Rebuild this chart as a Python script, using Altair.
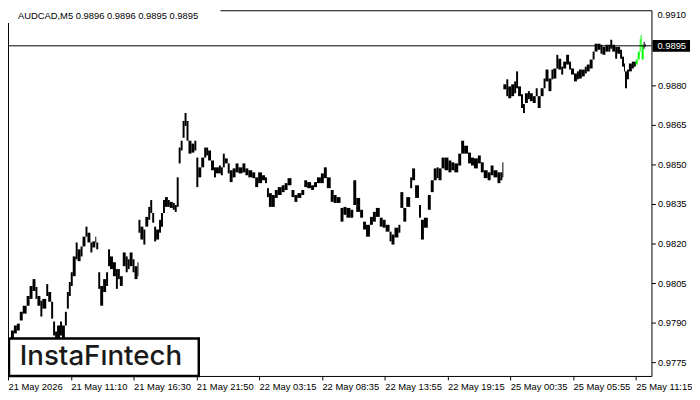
import altair as alt
import pandas as pd

# ---- data (5-minute bars, index 0 = first axis label) ----
bars = [3, 6, 9, 12, 15, 19, 22, 25, 28, 30, 33, 35, 39, 41, 44, 46, 48, 50, 53, 55,
        58, 60, 62, 64, 66, 69, 71, 74, 76, 79, 81, 84, 86, 89, 90, 92, 94, 97, 100, 102,
        104, 107, 110, 112, 114, 117, 120, 122, 124, 127, 129, 132, 133, 135, 138, 140, 143, 145, 147, 149,
        151, 154, 156, 158, 160, 163, 165, 168, 170, 172, 174, 176, 178, 180, 182, 184, 187, 190, 192, 194,
        197, 200, 202, 204, 207, 210, 212, 215, 217, 219, 221, 224, 226, 229, 232, 235, 239, 242, 245, 249,
        252, 255, 259, 262, 264, 266, 269, 272, 275, 279, 282, 285, 289, 292, 295, 299, 302, 305, 309, 312,
        315, 319, 322, 325, 329, 332, 335, 339, 342, 345, 349, 352, 355, 359, 362, 365, 369, 372, 375, 379,
        382, 385, 389, 391, 394, 398, 400, 403, 406, 410, 412, 415, 419, 421, 424, 428, 431, 434, 437, 439,
        442, 445, 449, 452, 455, 459, 462, 465, 469, 472, 475, 479, 482, 485, 489, 492, 495, 499, 502, 504,
        505, 508, 510, 513, 516, 518, 520, 523, 525, 527, 530, 532, 535, 538, 540, 543, 546, 548, 551, 554,
        556, 559, 561, 564, 566, 569, 572, 574, 577, 580, 582, 585, 588, 590, 593, 596, 598, 601, 604, 606,
        609, 612, 614, 616, 619, 621, 624, 626, 628, 629, 631, 633, 636, 638, 648, 649]
highs = [0.97870, 0.97889, 0.97896, 0.97941, 0.97964, 0.98001, 0.98039, 0.98065, 0.98035, 0.98001,
         0.97983, 0.97990, 0.98046, 0.98016, 0.97979, 0.97904, 0.97866, 0.97889, 0.97904, 0.97889,
         0.97941, 0.98016, 0.98054, 0.98091, 0.98151, 0.98204, 0.98178, 0.98189, 0.98226, 0.98264,
         0.98241, 0.98204, 0.98208, 0.98226, 0.98204, 0.98091, 0.98039, 0.98065, 0.98091, 0.98178,
         0.98151, 0.98129, 0.98103, 0.98103, 0.98076, 0.98166, 0.98151, 0.98140, 0.98166, 0.98140,
         0.98114, 0.98129, 0.98290, 0.98264, 0.98253, 0.98301, 0.98339, 0.98365, 0.98316, 0.98264,
         0.98253, 0.98290, 0.98316, 0.98365, 0.98376, 0.98365, 0.98358, 0.98354, 0.98346, 0.98451,
         0.98564, 0.98590, 0.98665, 0.98695, 0.98665, 0.98590, 0.98579, 0.98590, 0.98526, 0.98489,
         0.98526, 0.98564, 0.98564, 0.98553, 0.98515, 0.98489, 0.98489, 0.98496, 0.98489, 0.98541,
         0.98523, 0.98504, 0.98478, 0.98485, 0.98504, 0.98489, 0.98504, 0.98485, 0.98478, 0.98470,
         0.98451, 0.98470, 0.98459, 0.98451, 0.98410, 0.98391, 0.98384, 0.98403, 0.98414, 0.98421,
         0.98429, 0.98448, 0.98403, 0.98384, 0.98391, 0.98403, 0.98440, 0.98433, 0.98421, 0.98433,
         0.98451, 0.98466, 0.98489, 0.98451, 0.98403, 0.98384, 0.98376, 0.98335, 0.98339, 0.98335,
         0.98328, 0.98440, 0.98373, 0.98328, 0.98283, 0.98271, 0.98301, 0.98320, 0.98335, 0.98298,
         0.98290, 0.98271, 0.98245, 0.98234, 0.98260, 0.98271, 0.98395, 0.98335, 0.98376, 0.98451,
         0.98485, 0.98421, 0.98346, 0.98290, 0.98298, 0.98384, 0.98440, 0.98485, 0.98489, 0.98485,
         0.98526, 0.98526, 0.98515, 0.98508, 0.98504, 0.98541, 0.98590, 0.98571, 0.98545, 0.98526,
         0.98523, 0.98534, 0.98508, 0.98478, 0.98470, 0.98496, 0.98478, 0.98470, 0.98470, 0.98508,
         0.98804, 0.98823, 0.98796, 0.98804, 0.98815, 0.98853, 0.98796, 0.98766, 0.98729, 0.98770,
         0.98778, 0.98770, 0.98759, 0.98789, 0.98759, 0.98789, 0.98826, 0.98860, 0.98826, 0.98860,
         0.98864, 0.98916, 0.98901, 0.98871, 0.98890, 0.98916, 0.98890, 0.98864, 0.98845, 0.98853,
         0.98860, 0.98860, 0.98871, 0.98879, 0.98898, 0.98928, 0.98958, 0.98958, 0.98954, 0.98946,
         0.98954, 0.98954, 0.98973, 0.98954, 0.98946, 0.98946, 0.98935, 0.98909, 0.98883, 0.98853,
         0.98860, 0.98883, 0.98890, 0.98890, 0.98965, 0.98958]
lows = [0.97840, 0.97859, 0.97870, 0.97908, 0.97934, 0.97964, 0.97990, 0.98020, 0.97990, 0.97964,
        0.97923, 0.97953, 0.98001, 0.97979, 0.97915, 0.97851, 0.97833, 0.97833, 0.97851, 0.97833,
        0.97889, 0.97953, 0.98001, 0.98039, 0.98076, 0.98140, 0.98133, 0.98151, 0.98189, 0.98226,
        0.98204, 0.98166, 0.98185, 0.98204, 0.98178, 0.98028, 0.97964, 0.98016, 0.98039, 0.98114,
        0.98103, 0.98076, 0.98028, 0.98065, 0.98039, 0.98114, 0.98091, 0.98103, 0.98114, 0.98091,
        0.98065, 0.98076, 0.98241, 0.98215, 0.98196, 0.98264, 0.98290, 0.98316, 0.98279, 0.98208,
        0.98215, 0.98241, 0.98264, 0.98316, 0.98339, 0.98339, 0.98335, 0.98328, 0.98320, 0.98339,
        0.98504, 0.98553, 0.98601, 0.98646, 0.98590, 0.98541, 0.98545, 0.98553, 0.98414, 0.98451,
        0.98489, 0.98526, 0.98534, 0.98515, 0.98478, 0.98451, 0.98466, 0.98466, 0.98459, 0.98489,
        0.98504, 0.98466, 0.98433, 0.98451, 0.98470, 0.98466, 0.98470, 0.98459, 0.98451, 0.98448,
        0.98414, 0.98429, 0.98440, 0.98429, 0.98376, 0.98339, 0.98339, 0.98373, 0.98384, 0.98395,
        0.98403, 0.98421, 0.98376, 0.98358, 0.98373, 0.98384, 0.98414, 0.98410, 0.98403, 0.98414,
        0.98429, 0.98429, 0.98448, 0.98410, 0.98358, 0.98354, 0.98354, 0.98283, 0.98309, 0.98298,
        0.98298, 0.98346, 0.98320, 0.98298, 0.98253, 0.98226, 0.98271, 0.98283, 0.98301, 0.98264,
        0.98260, 0.98245, 0.98208, 0.98196, 0.98223, 0.98241, 0.98335, 0.98283, 0.98339, 0.98410,
        0.98440, 0.98373, 0.98298, 0.98215, 0.98260, 0.98328, 0.98395, 0.98440, 0.98448, 0.98440,
        0.98485, 0.98478, 0.98470, 0.98478, 0.98470, 0.98496, 0.98541, 0.98541, 0.98504, 0.98496,
        0.98485, 0.98504, 0.98470, 0.98448, 0.98440, 0.98459, 0.98451, 0.98429, 0.98440, 0.98451,
        0.98785, 0.98759, 0.98751, 0.98759, 0.98770, 0.98789, 0.98759, 0.98714, 0.98695, 0.98733,
        0.98748, 0.98740, 0.98733, 0.98759, 0.98714, 0.98759, 0.98789, 0.98815, 0.98778, 0.98823,
        0.98826, 0.98864, 0.98860, 0.98841, 0.98864, 0.98879, 0.98860, 0.98841, 0.98815, 0.98823,
        0.98826, 0.98834, 0.98845, 0.98853, 0.98864, 0.98898, 0.98928, 0.98935, 0.98920, 0.98916,
        0.98928, 0.98928, 0.98939, 0.98928, 0.98901, 0.98920, 0.98901, 0.98871, 0.98853, 0.98789,
        0.98823, 0.98853, 0.98864, 0.98871, 0.98939, 0.98946]

# highlighted (green) pattern bars
pattern_bars = [640, 642, 644, 645, 646]
pattern_highs = [0.98898, 0.98928, 0.98976, 0.98991, 0.98954]
pattern_lows = [0.98879, 0.98898, 0.98928, 0.98946, 0.98898]

tick_bars = [0, 64, 128, 192, 256, 320, 384, 448, 512, 576, 640]
tick_labels = ["21 May 2026", "21 May 11:10", "21 May 16:30", "21 May 21:50",
               "22 May 03:15", "22 May 08:35", "22 May 13:55", "22 May 19:15",
               "25 May 00:35", "25 May 05:55", "25 May 11:15"]
price_ticks = [0.9775, 0.9790, 0.9805, 0.9820, 0.9835, 0.9850, 0.9865, 0.9880]
top_tick = "0.9910"
current_price = 0.9895
title_text = "AUDCAD,M5  0.9896 0.9896 0.9895 0.9895"
logo_text = "InstaF\u0131ntech"

# ---- build table ----
df = pd.concat([
    pd.DataFrame({"bar": bars, "high": highs, "low": lows, "series": "bars"}),
    pd.DataFrame({"bar": pattern_bars, "high": pattern_highs, "low": pattern_lows, "series": "pattern"}),
]).sort_values("bar").reset_index(drop=True)
df["nb"] = df["bar"].shift(-1)
df.loc[df.index[-1], "nb"] = df["bar"].iloc[-1] + 1

W, H = 651, 370
FONT = "Liberation Sans"
xdom = [0, 656]
ydom = [0.976975, 0.99085]

label_expr = "[" + ",".join("'%s'" % t for t in tick_labels) + "][round(datum.value/64)]"

xenc = alt.X("bar:Q", scale=alt.Scale(domain=xdom, nice=False, zero=False),
             axis=alt.Axis(values=tick_bars, labelExpr=label_expr, title=None, grid=False,
                           domain=False, tickColor="black", tickSize=4, labelAlign="left",
                           labelPadding=2, labelFont=FONT, labelFontSize=9.5, labelColor="black",
                           labelOverlap=False, labelFlush=False, labelBound=False))
yenc = alt.Y("low:Q", scale=alt.Scale(domain=ydom, nice=False, zero=False),
             axis=alt.Axis(orient="right", values=price_ticks, format=".4f", title=None, grid=False,
                           domain=False, tickColor="black", tickSize=4, labelPadding=2,
                           labelFont=FONT, labelFontSize=9.5, labelColor="black",
                           labelOverlap=False, labelFlush=False, labelBound=False))

cover = alt.Chart().mark_rect(color="white").encode(
    x=alt.value(-2), x2=alt.value(215), y=alt.value(-1), y2=alt.value(13))

bars_layer = alt.Chart(df).mark_rect().encode(
    x=xenc, x2="nb:Q", y=yenc, y2="high:Q",
    color=alt.Color("series:N", scale=alt.Scale(domain=["bars", "pattern"], range=["#000000", "#00ff00"]),
                    legend=None))

price_line = alt.Chart().mark_rule(color="black", strokeWidth=1).encode(
    y=alt.datum(current_price), x=alt.value(0), x2=alt.value(W))

half = 6 * 0.0015 / 40
price_box = alt.Chart().mark_rect(color="black").encode(
    y=alt.datum(current_price + half), y2=alt.datum(current_price - half),
    x=alt.value(W + 1), x2=alt.value(W + 39))
price_text = alt.Chart().mark_text(color="white", font=FONT, fontSize=9.5, align="left",
                                   baseline="middle").encode(
    y=alt.datum(current_price), x=alt.value(W + 6), text=alt.datum("%.4f" % current_price))

top_label = alt.Chart().mark_text(color="black", font=FONT, fontSize=9.5, align="left",
                                  baseline="top").encode(
    x=alt.value(W + 6), y=alt.value(0), text=alt.datum(top_tick))

title_layer = alt.Chart().mark_text(color="black", font=FONT, fontSize=9.5, align="left",
                                    baseline="top").encode(
    x=alt.value(10), y=alt.value(1), text=alt.datum(title_text))

logo_box = alt.Chart().mark_rect(fill="white", stroke="black", strokeWidth=2.5).encode(
    x=alt.value(1), x2=alt.value(193), y=alt.value(332), y2=alt.value(370))
logo = alt.Chart().mark_text(font="Inter", fontSize=28, fontWeight=500, color="#1a1a1a",
                             align="center", baseline="middle").encode(
    x=alt.value(94), y=alt.value(351), text=alt.datum(logo_text))

chart = alt.layer(cover, bars_layer, price_line, price_box, price_text, top_label,
                  title_layer, logo_box, logo).properties(
    width=W, height=H,
    padding={"left": 0, "top": 0, "right": 41, "bottom": 18},
    autosize=alt.AutoSizeParams(type="none"),
    background="white",
).configure_view(stroke="black", strokeWidth=1)

chart.save("out.html", embed_options={"renderer": "svg", "actions": False})
